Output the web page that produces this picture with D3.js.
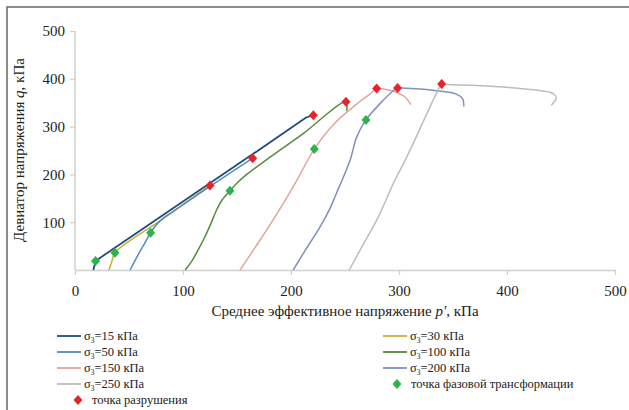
<!DOCTYPE html>
<html>
<head>
<meta charset="utf-8">
<script src="https://cdn.jsdelivr.net/npm/d3@7/dist/d3.min.js"></script>
<style>
  html, body { margin: 0; padding: 0; background: #fff; }
  svg { display: block; }
  svg text { font-family: "Liberation Serif", "DejaVu Serif", "Times New Roman", serif; }
</style>
</head>
<body>
<svg id="chart" width="629" height="410"></svg>
<script>
// Stress paths p'–q for each confining pressure σ3 (kPa): [p', q]
const path15  = [[17,0],[19,19],[165,243],[214,319],[220.7,324]];
const path30  = [[31.5,0],[34,17],[37,36],[80,105],[125,177]];
const path50  = [[51,0],[58,30],[65,58],[70,78],[76,96],[82,109],[90,121],[125,175],[164.5,234]];
const path100 = [[102,0],[108,18],[114,42],[120,68],[126,98],[131,125],[136,146],[143.5,166],[151,184],[159,200],[180.5,236],[211,285],[250.9,352],[251.5,333]];
const path150 = [[152.8,0],[170,58],[189.8,128],[205,186],[221.6,253],[240,306],[260.8,347],[273,368],[279.3,379.5],[287,378],[296,373],[305,363],[311,346]];
const path200 = [[202,0],[214,44],[226.9,90],[236,128.5],[242,160],[254.6,229],[260.8,278],[269.4,314],[282,347],[294.7,375],[298.7,380.5],[307,380],[335,375],[353,368],[359,358],[360,342]];
const path250 = [[254,0],[266,50],[280.9,111],[294.7,181],[304,222],[313,264],[325.6,326],[335,371],[339.5,389],[344,388],[381,385],[424,377],[443,369],[445.5,359],[441,345]];

// Failure points (red) and phase-transformation points (green)
const failP  = [220.7, 125, 164.5, 250.9, 279.3, 298.7, 339.5];
const failQ  = [324, 177, 234, 352, 379.5, 380.5, 389];
const phaseP = [19, 37, 70, 143.5, 221.6, 269.4];
const phaseQ = [19, 36, 78, 166, 253, 314];

const seriesLabels = ["15", "30", "50", "100", "150", "200", "250"];
const seriesPaths  = [path15, path30, path50, path100, path150, path200, path250];
const seriesColors = ["#1f4e79", "#c9ab3c", "#5a8bb0", "#5a8a3c", "#e2a59b", "#8090bb", "#bdbdbd"];

const xTicks = [0, 100, 200, 300, 400, 500];
const yTicks = [100, 200, 300, 400, 500];

const svg = d3.select("#chart");

// outer frame
svg.append("rect")
  .attr("x", 7).attr("y", 7).attr("width", 660).attr("height", 440)
  .attr("fill", "none").attr("stroke", "#707070").attr("stroke-width", 1.6);

const x = d3.scaleLinear().domain([0, 500]).range([75, 615]);
const y = d3.scaleLinear().domain([0, 500]).range([270, 31]);

const axisColor = "#d0d0d0";

// x axis
const gx = svg.append("g").attr("transform", `translate(0,${y(0)})`)
  .call(d3.axisBottom(x).tickValues(xTicks).tickSize(5).tickPadding(10).tickSizeOuter(0));
// y axis
const gy = svg.append("g").attr("transform", `translate(${x(0)},0)`)
  .call(d3.axisLeft(y).tickValues(yTicks).tickSize(5).tickPadding(5).tickSizeOuter(0));

[gx, gy].forEach(g => {
  g.attr("font-family", null);
  g.select(".domain").attr("stroke", axisColor).attr("stroke-width", 1.5);
  g.selectAll(".tick line").attr("stroke", axisColor).attr("stroke-width", 1.2);
  g.selectAll(".tick text").attr("fill", "#222").attr("font-size", 15);
});
gy.select(".domain").attr("d", `M0,${y(500)}V${y(0)}`);

// axis titles
const xt = svg.append("text").attr("x", 345).attr("y", 316).attr("text-anchor", "middle")
  .attr("font-size", 15).attr("fill", "#222");
xt.append("tspan").text("Среднее эффективное напряжение ");
xt.append("tspan").attr("font-style", "italic").text("p′");
xt.append("tspan").text(", кПа");

const yt = svg.append("text").attr("transform", "translate(24,150) rotate(-90)")
  .attr("text-anchor", "middle").attr("font-size", 15).attr("fill", "#222");
yt.append("tspan").text("Девиатор напряжения ");
yt.append("tspan").attr("font-style", "italic").text("q");
yt.append("tspan").text(", кПа");

// stress paths: straight segments for σ3=15, smooth curves for the rest
const smooth = d3.line().x(d => x(d[0])).y(d => y(d[1])).curve(d3.curveCatmullRom.alpha(0.5));
const straight = d3.line().x(d => x(d[0])).y(d => y(d[1]));
svg.append("g").selectAll("path").data(seriesPaths).join("path")
  .attr("d", (d, i) => i === 0 ? straight(d) : smooth(d))
  .attr("fill", "none")
  .attr("stroke", (d, i) => seriesColors[i])
  .attr("stroke-width", (d, i) => i === 0 ? 1.8 : 1.5)
  .attr("stroke-linejoin", "round");

const diamond = "M0,-5L4.5,0L0,5L-4.5,0Z";

svg.append("g").selectAll("path").data(phaseP).join("path")
  .attr("d", diamond)
  .attr("transform", (d, i) => `translate(${x(d)},${y(phaseQ[i])})`)
  .attr("fill", "#2db34a");

svg.append("g").selectAll("path").data(failP).join("path")
  .attr("d", diamond)
  .attr("transform", (d, i) => `translate(${x(d)},${y(failQ[i])})`)
  .attr("fill", "#e8232a");

// legend
const legendItems = [
  { col: 0, row: 0, s: 0 }, { col: 1, row: 0, s: 1 },
  { col: 0, row: 1, s: 2 }, { col: 1, row: 1, s: 3 },
  { col: 0, row: 2, s: 4 }, { col: 1, row: 2, s: 5 },
  { col: 0, row: 3, s: 6 }
];
const colX = [57, 383];
const rowY = r => 336 + r * 16;
const lg = svg.append("g").attr("font-size", 12.5).attr("fill", "#222");

legendItems.forEach(it => {
  const lx = colX[it.col], ly = rowY(it.row);
  lg.append("line").attr("x1", lx).attr("x2", lx + 24).attr("y1", ly).attr("y2", ly)
    .attr("stroke", seriesColors[it.s]).attr("stroke-width", 1.8);
  const t = lg.append("text").attr("x", lx + 27).attr("y", ly + 4);
  t.append("tspan").text("σ");
  t.append("tspan").attr("font-size", 7.5).attr("dy", 2.5).text("3");
  t.append("tspan").attr("dy", -2.5).text("=" + seriesLabels[it.s] + " кПа");
});

lg.append("path").attr("d", diamond).attr("transform", `translate(397,${rowY(3)})`).attr("fill", "#2db34a");
lg.append("text").attr("x", 411).attr("y", rowY(3) + 4).text("точка фазовой трансформации");
lg.append("path").attr("d", diamond).attr("transform", `translate(78,${rowY(4)})`).attr("fill", "#e8232a");
lg.append("text").attr("x", 92).attr("y", rowY(4) + 4).text("точка разрушения");
</script>
</body>
</html>
